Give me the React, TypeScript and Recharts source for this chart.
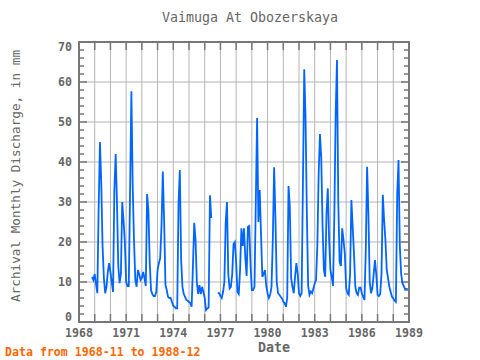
import React from "react"
import { LineChart, Line, XAxis, YAxis, CartesianGrid, ReferenceLine, ReferenceArea } from "recharts"

// monthly series, first value is 1968-11
const startYear = 1968
const startMonth = 11

const discharge: (number | null)[] = [
  11.3, 10.5, // 1968
  12, 9.5, 7.2, 28.5, 45, 34.7, 19, 11, 7.2, 8.8, 12.5, 14.7, // 1969
  12.5, 10, 7.5, 33, 42, 30, 14, 9.7, 12, 30, 25.5, 20, // 1970
  10, 9, 9, 32.5, 57.7, 34, 20.5, 10.5, 8.8, 13, 12, 10.5, // 1971
  11, 12.5, 11, 9, 32, 28, 15, 8, 7, 6.5, 6.5, 7.5, // 1972
  13, 14.7, 16, 24, 37.6, 25.5, 9.3, 8, 6.3, 6, 6, 5, // 1973
  4, 3.8, 3.4, 3.4, 29.7, 38, 15.5, 8.8, 7, 6.3, 5.5, 5.3, // 1974
  5, 4.7, 3.8, 14, 24.8, 20.5, 10, 7, 9.2, 7, 8.8, 7.5, // 1975
  6, 3, 3.4, 3.6, 31.7, 26, null, null, null, null, 7.2, 7.2, // 1976
  6.5, 6, 7.5, 10, 24.7, 30, 12, 8.4, 8.8, 12, 19.5, 20, // 1977
  15, 7.5, 7, 13, 23.4, 19, 23.4, 16, 11.5, 23.8, 24, 14, // 1978
  8, 8, 8.8, 29.7, 51, 25, 33, 22, 11.3, 12, 13, 9, // 1979
  7.2, 6, 6.8, 8.8, 20.5, 38.7, 26, 10, 7.2, 6.8, 6.3, 5.9, // 1980
  5.1, 4.7, 3.8, 6, 34, 28.8, 11, 8.8, 7.2, 11.3, 14.7, 12, // 1981
  7.2, 6.5, 7.2, 34.7, 63.2, 51, 27, 9, 6.8, 7.6, 7.2, 8.4, // 1982
  9.7, 10.5, 19, 37, 47, 41, 24, 13, 11.3, 27.2, 33.4, 20.5, // 1983
  13, 11.3, 9, 27, 52, 65.5, 30, 15, 14, 23.4, 20.5, 17, // 1984
  8.5, 7.2, 6.8, 12, 30.5, 23.8, 17, 8.8, 7.2, 6.8, 8.6, 8.6, // 1985
  7.2, 6.3, 5.5, 18, 38.8, 27.2, 10, 7.2, 8.5, 11.8, 15.5, 12, // 1986
  6.8, 6.5, 7, 12, 31.8, 25.5, 20.5, 13, 11, 8.8, 7.5, 6.3, // 1987
  5.9, 5.3, 5, 32, 40.5, 19, 12, 9.7, 9, 8.3, 8.3, 8.3, // 1988
]

const yearTicks = [
  1968, 1969, 1970, 1971, 1972, 1973, 1974, 1975, 1976, 1977, 1978,
  1979, 1980, 1981, 1982, 1983, 1984, 1985, 1986, 1987, 1988, 1989,
]
const labeledYears = [1968, 1971, 1974, 1977, 1980, 1983, 1986, 1989]
const valueTicks = [0, 10, 20, 30, 40, 50, 60, 70]
const minorValueTicks = [
  2, 4, 6, 8, 12, 14, 16, 18, 22, 24, 26, 28, 32, 34, 36, 38,
  42, 44, 46, 48, 52, 54, 56, 58, 62, 64, 66, 68,
]

const data = discharge.map((v, i) => ({
  t: startYear + (startMonth - 1 + i) / 12,
  v,
}))

const W = 480
const H = 360
const plotLeft = 79
const plotTop = 42
const plotW = 330
const plotH = 280
const xMin = 1968
const xMax = 1989
const yMax = 70
const pxPerYear = plotW / (xMax - xMin)
const pxPerUnit = plotH / yMax

const mono = "'DejaVu Sans Mono', monospace"
const frameColor = "#777777"
const textColor = "#666666"

const YTick = ({ x, y, payload }: any) => {
  // end labels are pulled inward, as in the original
  const shift = payload.value === 70 ? 5 : payload.value === 0 ? -5 : 0
  return (
    <text
      x={x}
      y={y + shift}
      dy="0.35em"
      textAnchor="end"
      fill={textColor}
      fontFamily={mono}
      fontWeight="bold"
      fontSize={11.6}
    >
      {payload.value}
    </text>
  )
}

export default function App() {
  const minorLen = 5 / pxPerYear
  const majorLen = 8 / pxPerYear
  const xTickLen = 8 / pxPerUnit

  return (
    <div style={{ position: "relative", width: W, height: H, background: "#fff" }}>
      <style>{"body{margin:0;background:#fff}"}</style>
      <div
        style={{
          position: "absolute",
          left: 250,
          top: 10,
          transform: "translateX(-50%)",
          fontFamily: mono,
          fontSize: 13.3,
          color: textColor,
          whiteSpace: "nowrap",
          lineHeight: "16px",
        }}
      >
        Vaimuga At Obozerskaya
      </div>
      <div
        style={{
          position: "absolute",
          left: 16,
          top: 176,
          transform: "translate(-50%, -50%) rotate(-90deg)",
          fontFamily: mono,
          fontSize: 12.7,
          color: textColor,
          whiteSpace: "nowrap",
          lineHeight: "14px",
        }}
      >
        Archival Monthly Discharge, in mm
      </div>
      <div
        style={{
          position: "absolute",
          left: 274,
          top: 348,
          transform: "translate(-50%, -50%)",
          fontFamily: mono,
          fontSize: 13.3,
          fontWeight: "bold",
          color: textColor,
          whiteSpace: "nowrap",
          lineHeight: "16px",
        }}
      >
        Date
      </div>
      <div
        style={{
          position: "absolute",
          left: 5,
          top: 352,
          transform: "translateY(-50%)",
          fontFamily: mono,
          fontSize: 11.6,
          fontWeight: "bold",
          color: "#ff6600",
          whiteSpace: "nowrap",
          lineHeight: "14px",
        }}
      >
        Data from 1968-11 to 1988-12
      </div>

      <div style={{ position: "absolute", left: 0, top: 0 }}>
        <LineChart
          width={W}
          height={H}
          data={data}
          margin={{ top: plotTop, right: W - plotLeft - plotW, bottom: 0, left: 0 }}
        >
          <CartesianGrid stroke="#b4b4b4" strokeWidth={1} />
          <XAxis
            dataKey="t"
            type="number"
            domain={[xMin, xMax]}
            ticks={yearTicks}
            interval={0}
            height={H - plotTop - plotH}
            axisLine={false}
            tickLine={false}
            tickSize={0}
            tickMargin={7}
            tickFormatter={(yr: number) => (labeledYears.includes(yr) ? String(yr) : "")}
            tick={{ fill: textColor, fontSize: 11.6, fontFamily: mono, fontWeight: "bold" }}
          />
          <YAxis
            type="number"
            domain={[0, yMax]}
            ticks={valueTicks}
            interval={0}
            width={plotLeft}
            axisLine={false}
            tickLine={false}
            tickSize={0}
            tickMargin={7}
            tick={<YTick />}
          />

          {minorValueTicks.map((v) => (
            <ReferenceLine
              key={"lm" + v}
              segment={[{ x: xMin, y: v }, { x: xMin + minorLen, y: v }]}
              stroke={frameColor}
              strokeWidth={1.5}
            />
          ))}
          {minorValueTicks.map((v) => (
            <ReferenceLine
              key={"rm" + v}
              segment={[{ x: xMax - minorLen, y: v }, { x: xMax, y: v }]}
              stroke={frameColor}
              strokeWidth={1.5}
            />
          ))}
          {valueTicks.map((v) => (
            <ReferenceLine
              key={"lM" + v}
              segment={[{ x: xMin, y: v }, { x: xMin + majorLen, y: v }]}
              stroke={frameColor}
              strokeWidth={1.5}
            />
          ))}
          {valueTicks.map((v) => (
            <ReferenceLine
              key={"rM" + v}
              segment={[{ x: xMax - majorLen, y: v }, { x: xMax, y: v }]}
              stroke={frameColor}
              strokeWidth={1.5}
            />
          ))}
          {yearTicks.map((yr) => (
            <ReferenceLine
              key={"b" + yr}
              segment={[{ x: yr, y: 0 }, { x: yr, y: xTickLen }]}
              stroke={frameColor}
              strokeWidth={1.5}
            />
          ))}
          {yearTicks.map((yr) => (
            <ReferenceLine
              key={"t" + yr}
              segment={[{ x: yr, y: yMax - xTickLen }, { x: yr, y: yMax }]}
              stroke={frameColor}
              strokeWidth={1.5}
            />
          ))}

          <Line
            type="linear"
            dataKey="v"
            stroke="#0066ff"
            strokeWidth={1.8}
            dot={false}
            connectNulls={false}
            isAnimationActive={false}
          />

          <ReferenceArea
            x1={xMin}
            x2={xMax}
            y1={0}
            y2={yMax}
            fill="none"
            fillOpacity={0}
            stroke={frameColor}
            strokeWidth={2}
            ifOverflow="visible"
          />
        </LineChart>
      </div>
    </div>
  )
}
